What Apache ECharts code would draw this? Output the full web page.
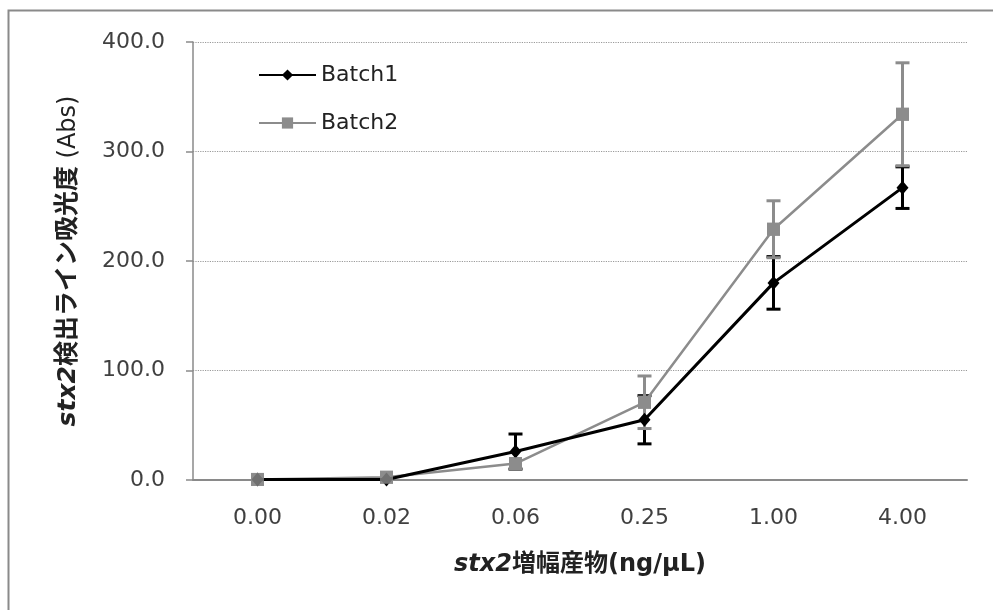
<!DOCTYPE html>
<html>
<head>
<meta charset="utf-8">
<script src="https://cdn.jsdelivr.net/npm/echarts@6/dist/echarts.min.js"></script>
<style>
  html, body { margin: 0; padding: 0; background: #fff; }
  #chart { width: 993px; height: 610px; }
</style>
</head>
<body>
<div id="chart"></div>
<script>
// Concentration categories (ng/μL) on the x axis
const categories = ['0.00', '0.02', '0.06', '0.25', '1.00', '4.00'];

// Mean absorbance of the stx2 detection line, per batch
const batch1Values = [0.5, 0.5, 26, 55, 180, 267];
const batch2Values = [0.5, 2.5, 15, 71, 229, 334];

// Error bar half-lengths (same units as the values)
const batch1Errors = [0, 0, 16, 22, 24, 19];
const batch2Errors = [0, 0, 0, 24, 26, 47];

// Y axis range and ticks
const yMin = 0, yMax = 400, yStep = 100;

const FONT = '"DejaVu Sans", "Noto Sans CJK JP", sans-serif';

function errorData(values, errors) {
  return values.map((v, i) => [i, v - errors[i], v + errors[i], errors[i]]);
}

function errorSeries(name, values, errors, color, width, z) {
  return {
    name: name,
    type: 'custom',
    data: errorData(values, errors),
    z: z,
    renderItem: function (params, api) {
      if (api.value(3) <= 0) return null;
      const idx = api.value(0);
      const lo = api.coord([idx, api.value(1)]);
      const hi = api.coord([idx, api.value(2)]);
      const hw = 7;
      const style = { stroke: color, lineWidth: width };
      return {
        type: 'group',
        children: [
          { type: 'line', shape: { x1: lo[0], y1: lo[1], x2: hi[0], y2: hi[1] }, style: style },
          { type: 'line', shape: { x1: lo[0] - hw, y1: lo[1], x2: lo[0] + hw, y2: lo[1] }, style: style },
          { type: 'line', shape: { x1: hi[0] - hw, y1: hi[1], x2: hi[0] + hw, y2: hi[1] }, style: style }
        ]
      };
    }
  };
}

const chart = echarts.init(document.getElementById('chart'), null, { renderer: 'canvas' });

chart.setOption({
  animation: false,
  backgroundColor: '#ffffff',
  graphic: [{
    type: 'rect',
    shape: { x: 8.5, y: 10.5, width: 1000, height: 700 },
    style: { fill: 'none', stroke: '#8a8a8a', lineWidth: 2 },
    silent: true
  }],
  grid: { left: 193, right: 26, top: 42, bottom: 130 },
  legend: {
    data: ['Batch1', 'Batch2'],
    orient: 'vertical',
    left: 253,
    top: 59,
    itemWidth: 57,
    itemHeight: 14,
    itemGap: 26,
    textStyle: { fontFamily: FONT, fontSize: 22, color: '#222' }
  },
  xAxis: {
    type: 'category',
    data: categories,
    boundaryGap: true,
    axisLine: { lineStyle: { color: '#8a8a8a', width: 2 } },
    axisTick: { show: false },
    axisLabel: { margin: 27, fontFamily: FONT, fontSize: 22, color: '#404040' },
    name: '{it|stx2}{b|増幅産物(ng/μL)}',
    nameLocation: 'middle',
    nameGap: 73,
    nameTextStyle: {
      rich: {
        it: { fontFamily: FONT, fontSize: 24, fontWeight: 'bold', fontStyle: 'italic', color: '#222' },
        b: { fontFamily: FONT, fontSize: 24, fontWeight: 'bold', color: '#222' }
      }
    }
  },
  yAxis: {
    type: 'value',
    min: yMin,
    max: yMax,
    interval: yStep,
    axisLine: { show: true, lineStyle: { color: '#8a8a8a', width: 1.5 } },
    axisTick: { show: true, length: 7, lineStyle: { color: '#8a8a8a', width: 1.5 } },
    axisLabel: {
      margin: 28,
      fontFamily: FONT,
      fontSize: 22,
      color: '#404040',
      formatter: v => v.toFixed(1)
    },
    splitLine: { lineStyle: { color: '#9a9a9a', type: 'dotted', width: 1.2 } },
    name: '{it|stx2}{b|検出ライン吸光度}{r| (Abs)}',
    nameLocation: 'middle',
    nameRotate: 90,
    nameGap: 112,
    nameTextStyle: {
      rich: {
        it: { fontFamily: FONT, fontSize: 25, fontWeight: 'bold', fontStyle: 'italic', color: '#222' },
        b: { fontFamily: FONT, fontSize: 25, fontWeight: 'bold', color: '#222' },
        r: { fontFamily: FONT, fontSize: 24, color: '#222' }
      }
    }
  },
  series: [
    errorSeries('Batch1 error', batch1Values, batch1Errors, '#000000', 3, 2),
    {
      name: 'Batch2',
      type: 'line',
      data: batch2Values,
      symbol: 'rect',
      symbolSize: 13,
      z: 3,
      lineStyle: { color: '#8c8c8c', width: 2.5 },
      itemStyle: { color: '#8c8c8c' }
    },
    errorSeries('Batch2 error', batch2Values, batch2Errors, '#8c8c8c', 3, 3),
    {
      name: 'Batch1',
      type: 'line',
      data: batch1Values,
      symbol: 'diamond',
      symbolSize: [12, 14],
      z: 4,
      lineStyle: { color: '#000000', width: 3 },
      itemStyle: { color: '#000000' }
    },
    {
      // Batch2 markers repeated on top so they cover the Batch1 bars where they meet
      name: 'Batch2 markers',
      type: 'scatter',
      data: batch2Values,
      symbol: 'rect',
      symbolSize: 13,
      z: 5,
      itemStyle: { color: '#8c8c8c' }
    }
  ]
});
</script>
</body>
</html>
